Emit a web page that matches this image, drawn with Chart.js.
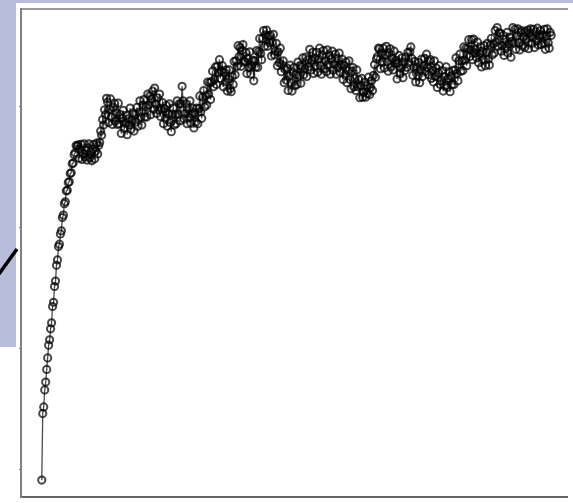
<!DOCTYPE html>
<html>
<head>
<meta charset="utf-8">
<script src="https://cdn.jsdelivr.net/npm/chart.js@4"></script>
<style>
  html, body { margin: 0; padding: 0; background: #fff; overflow: hidden; }
  #wrap { position: relative; width: 573px; height: 503px; }
  .band { position: absolute; background: #b8bddc; }
  #bandTop { left: 0; top: 0; width: 573px; height: 3px; }
  #bandSide { left: 0; top: 0; width: 16px; height: 347px; }
  #stroke { position: absolute; left: 0; top: 0; }
  #c { position: absolute; left: 0; top: 0; }
</style>
</head>
<body>
<div id="wrap">
  <div class="band" id="bandTop"></div>
  <div class="band" id="bandSide"></div>
  <svg id="stroke" width="20" height="300"><line x1="-1" y1="274" x2="17" y2="249" stroke="#000" stroke-width="3.5"/></svg>
  <canvas id="c" width="573" height="503"></canvas>
</div>
<script>
// Accuracy (%) recorded at each epoch
const accuracy = [
  18.2, 29.2, 30.3, 33.1, 34.4, 36.5, 38.4, 40.5, 41.4, 43.2,
  44.2, 46.9, 47.6, 50.2, 51.1, 53.7, 54.6, 56.8, 57.2, 58.9,
  59.4, 61.6, 62.0, 63.9, 64.2, 66.0, 66.1, 67.4, 67.5, 68.9,
  69.0, 70.5, 70.6, 72.0, 72.3, 73.5, 73.4, 73.6, 71.4, 72.9,
  73.7, 71.2, 72.2, 73.8, 71.6, 72.7, 71.1, 73.1, 73.8, 71.5,
  72.4, 71.0, 72.9, 73.7, 71.3, 72.6, 73.9, 72.1, 73.5, 74.0,
  75.9, 75.2, 77.8, 76.9, 79.4, 78.6, 81.3, 80.7, 77.3, 79.5,
  81.2, 78.2, 77.0, 79.8, 80.5, 77.5, 78.9, 77.0, 80.5, 77.1,
  78.6, 75.5, 78.0, 79.3, 76.3, 77.2, 78.5, 75.3, 77.9, 76.9,
  79.7, 76.2, 77.7, 78.9, 75.9, 78.6, 77.4, 79.8, 76.7, 79.0,
  80.9, 78.2, 76.9, 80.2, 81.1, 78.2, 79.9, 78.2, 82.0, 80.2,
  81.7, 78.6, 81.2, 82.5, 79.5, 83.0, 80.4, 78.8, 81.4, 79.4,
  82.0, 78.3, 79.6, 80.6, 77.1, 79.6, 78.0, 80.1, 76.7, 78.7,
  80.4, 77.3, 75.8, 78.7, 79.7, 76.9, 78.6, 77.1, 80.9, 78.7,
  80.4, 77.6, 80.4, 83.3, 80.9, 77.9, 78.8, 80.4, 77.1, 79.6,
  78.1, 80.9, 77.2, 78.7, 79.7, 76.4, 78.9, 77.4, 79.7, 77.1,
  79.6, 81.7, 79.1, 78.0, 81.5, 82.6, 79.9, 81.7, 80.2, 84.0,
  82.0, 83.9, 81.1, 84.1, 85.8, 83.2, 84.4, 86.5, 83.6, 86.6,
  85.5, 87.7, 84.6, 85.9, 86.7, 83.2, 85.6, 84.0, 86.0, 82.5,
  84.5, 86.0, 82.9, 82.4, 84.9, 83.6, 87.4, 85.2, 87.5, 86.6,
  90.0, 88.2, 89.7, 86.6, 89.2, 90.2, 87.5, 87.3, 88.9, 85.4,
  87.9, 86.4, 89.0, 85.3, 86.7, 87.6, 84.2, 87.5, 86.5, 89.2,
  86.4, 89.0, 91.2, 88.7, 87.7, 91.2, 92.5, 89.9, 91.8, 92.6,
  89.9, 91.6, 90.5, 91.7, 88.3, 90.6, 91.9, 88.5, 89.1, 90.4,
  86.7, 89.0, 87.2, 89.6, 85.7, 86.8, 87.5, 83.9, 86.1, 84.3,
  86.3, 82.6, 85.0, 86.8, 83.9, 82.5, 85.6, 86.4, 83.4, 85.2,
  83.6, 87.3, 85.1, 86.7, 83.8, 86.6, 88.0, 85.2, 86.2, 88.1,
  84.9, 87.7, 86.5, 89.4, 86.0, 87.6, 88.9, 85.4, 88.0, 86.6,
  88.9, 85.6, 87.8, 89.6, 86.7, 85.3, 88.4, 89.2, 86.2, 87.5,
  85.7, 89.3, 86.9, 88.4, 85.3, 87.8, 89.1, 86.0, 86.9, 88.6,
  85.3, 87.9, 86.4, 88.8, 85.6, 86.9, 87.8, 84.4, 86.8, 85.2,
  87.3, 83.9, 85.9, 87.5, 84.4, 82.9, 85.8, 86.4, 83.2, 84.6,
  82.6, 86.0, 83.2, 84.4, 81.4, 83.4, 84.6, 81.5, 82.3, 84.0,
  81.5, 83.4, 82.1, 84.8, 81.9, 83.1, 84.2, 82.6, 85.1, 86.9,
  84.8, 87.8, 88.2, 89.6, 89.5, 86.2, 88.8, 87.3, 89.6, 86.3,
  88.5, 89.9, 87.3, 85.8, 88.8, 89.5, 86.5, 87.9, 86.0, 89.1,
  87.1, 87.6, 84.5, 87.1, 88.4, 85.4, 86.3, 88.0, 84.7, 87.3,
  85.9, 88.1, 86.4, 88.9, 87.2, 89.0, 89.8, 87.9, 85.1, 86.5,
  87.4, 84.0, 86.5, 85.0, 87.2, 83.9, 86.0, 87.8, 84.9, 86.7,
  87.9, 85.8, 88.6, 86.4, 85.2, 87.4, 87.7, 84.6, 85.9, 84.0,
  87.5, 84.9, 86.3, 83.1, 85.5, 86.7, 83.6, 84.3, 85.9, 82.5,
  84.9, 83.4, 86.5, 83.1, 84.6, 85.7, 82.4, 85.0, 83.6, 85.9,
  83.6, 86.0, 88.0, 85.4, 84.2, 87.5, 88.6, 85.8, 87.5, 85.9,
  89.8, 87.6, 89.6, 86.7, 89.5, 91.0, 88.2, 89.3, 91.0, 87.7,
  91.1, 88.8, 89.4, 88.0, 90.6, 87.2, 88.7, 89.8, 86.5, 89.1,
  87.7, 90.0, 86.7, 88.9, 90.4, 87.8, 86.8, 90.1, 91.2, 88.5,
  90.3, 88.8, 92.5, 90.6, 93.0, 89.9, 92.1, 92.1, 89.1, 90.0,
  91.7, 88.4, 91.0, 89.6, 92.2, 88.8, 90.3, 91.4, 88.1, 90.7,
  93.0, 90.4, 92.7, 89.4, 91.6, 92.8, 90.5, 89.3, 92.2, 92.5,
  90.0, 91.5, 89.7, 92.3, 91.1, 92.6, 89.5, 92.1, 92.8, 90.4,
  91.3, 92.7, 89.7, 92.3, 90.9, 92.9, 90.1, 91.6, 92.5, 90.2,
  91.8, 90.4, 92.7, 89.4, 91.6, 92.8, 90.5, 89.6, 92.2, 91.7
];

// Epoch numbers, one per recorded value
const epochs = accuracy.map((_, i) => i + 1);

// Tick values marked on the left axis
const yTickStep = 20;

new Chart(document.getElementById('c'), {
  type: 'line',
  data: {
    datasets: [{
      data: accuracy.map((v, i) => ({ x: epochs[i], y: v })),
      borderColor: 'rgba(0,0,0,0.7)',
      borderWidth: 1.3,
      tension: 0,
      pointRadius: 3.6,
      pointBorderWidth: 2,
      pointBorderColor: 'rgba(0,0,0,0.72)',
      pointBackgroundColor: 'rgba(255,255,255,0)'
    }]
  },
  options: {
    responsive: false,
    animation: false,
    devicePixelRatio: 1,
    layout: { padding: { left: 21, top: 9, right: 0, bottom: 2 } },
    plugins: { legend: { display: false }, tooltip: { enabled: false } },
    scales: {
      x: {
        type: 'linear',
        position: 'bottom',
        min: -20.16,
        max: 536.12,
        grid: { display: false },
        ticks: { display: false },
        border: { display: true, color: '#666', width: 2 },
        afterFit: s => { s.height = 0; }
      },
      xTop: {
        type: 'linear',
        position: 'top',
        min: 0,
        max: 1,
        grid: { display: false },
        ticks: { display: false },
        border: { display: true, color: '#999', width: 2 },
        afterFit: s => { s.height = 0; }
      },
      y: {
        type: 'linear',
        min: 15.41,
        max: 96.07,
        ticks: { display: false, stepSize: yTickStep, includeBounds: false },
        grid: { display: true, drawOnChartArea: false, drawTicks: true, tickLength: 2, color: '#777', lineWidth: 1 },
        border: { display: true, color: '#808080', width: 2 },
        afterFit: s => { s.width = 0; }
      }
    }
  }
});
</script>
</body>
</html>
